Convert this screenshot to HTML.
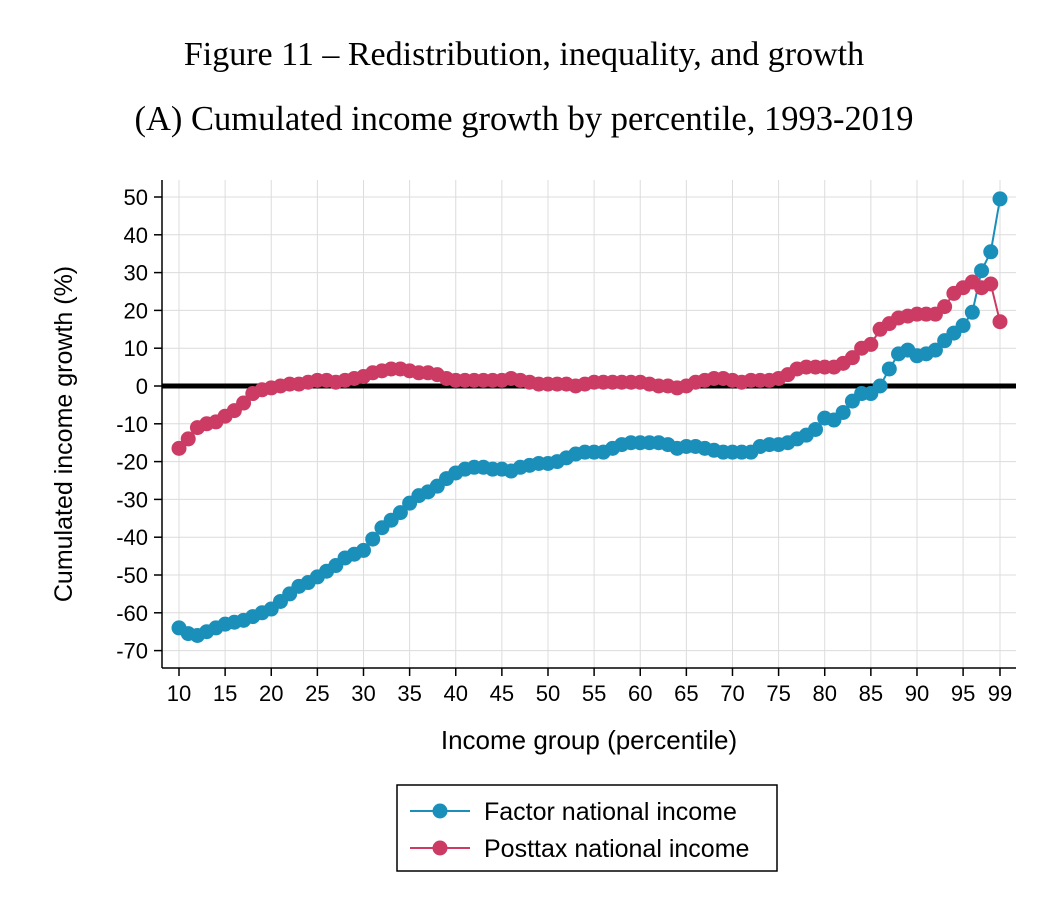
<!DOCTYPE html>
<html><head><meta charset="utf-8"><style>
body{margin:0;background:#fff;}
svg text{font-family:"Liberation Sans",sans-serif;}
</style></head><body>
<svg id="chart" width="1053" height="902" xmlns="http://www.w3.org/2000/svg">
<text x="524" y="65" text-anchor="middle" style="font-family:'Liberation Serif',serif;font-size:34px">Figure 11 – Redistribution, inequality, and growth</text>
<text x="524" y="130" text-anchor="middle" style="font-family:'Liberation Serif',serif;font-size:34.5px">(A) Cumulated income growth by percentile, 1993-2019</text>
<g id="grid"></g>
<g id="axes"></g>
<g id="series"></g>
<text transform="translate(72,434) rotate(-90)" text-anchor="middle" font-size="25">Cumulated income growth (%)</text>
<text x="589" y="749" text-anchor="middle" font-size="26">Income group (percentile)</text>
<g>
<rect x="397" y="785" width="380" height="86" fill="#fff" stroke="#000" stroke-width="1.5"/>
<g><line x1="410" y1="811" x2="470" y2="811" stroke="#1a8fba" stroke-width="2"/><circle cx="440" cy="811" r="7.5" fill="#1a8fba"/><text x="484" y="820" font-size="25">Factor national income</text></g>
<g><line x1="410" y1="848" x2="470" y2="848" stroke="#cc3b63" stroke-width="2"/><circle cx="440" cy="848" r="7.5" fill="#cc3b63"/><text x="484" y="857" font-size="25">Posttax national income</text></g>
</g>
</svg>
<script>
const factor=[-64,-65.5,-66,-65,-64,-63,-62.5,-62,-61,-60,-59,-57,-55,-53,-52,-50.5,-49,-47.5,-45.5,-44.5,-43.5,-40.5,-37.5,-35.5,-33.5,-31,-29,-28,-26.5,-24.5,-23,-22,-21.5,-21.5,-22,-22,-22.5,-21.5,-21,-20.5,-20.5,-20,-19,-18,-17.5,-17.5,-17.5,-16.5,-15.5,-15,-15,-15,-15,-15.5,-16.5,-16,-16,-16.5,-17,-17.5,-17.5,-17.5,-17.5,-16,-15.5,-15.5,-15,-14,-13,-11.5,-8.5,-9,-7,-4,-2,-2,0,4.5,8.5,9.5,8,8.5,9.5,12,14,16,19.5,30.5,35.5,49.5];
const posttax=[-16.5,-14,-11,-10,-9.5,-8,-6.5,-4.5,-2,-1,-0.5,0,0.5,0.5,1,1.5,1.5,1,1.5,2,2.5,3.5,4,4.5,4.5,4,3.5,3.5,3,2,1.5,1.5,1.5,1.5,1.5,1.5,2,1.5,1,0.5,0.5,0.5,0.5,0,0.5,1,1,1,1,1,1,0.5,0,0,-0.5,0,1,1.5,2,2,1.5,1,1.5,1.5,1.5,2,3,4.5,5,5,5,5,6,7.5,10,11,15,16.5,18,18.5,19,19,19,21,24.5,26,27.5,26,27,17];
const xTicks=[10,15,20,25,30,35,40,45,50,55,60,65,70,75,80,85,90,95,99];
const yTicks=[50,40,30,20,10,0,-10,-20,-30,-40,-50,-60,-70];
const NS="http://www.w3.org/2000/svg";
const X=v=>179+(v-10)*(1000-179)/89;
const Y=v=>386-v*(386-197)/50;
function mk(t,a,p){const e=document.createElementNS(NS,t);for(const k in a)e.setAttribute(k,a[k]);p.appendChild(e);return e;}
const grid=document.getElementById('grid'),axes=document.getElementById('axes'),ser=document.getElementById('series');
xTicks.forEach(t=>{const l=mk('line',{x1:X(t),x2:X(t),y1:180,y2:668,stroke:'#dcdcdc','stroke-width':1},grid);


const tk=mk('line',{x1:X(t),x2:X(t),y1:668,y2:676,stroke:'#000','stroke-width':1.5},axes);


const tx=mk('text',{x:X(t),y:701,'text-anchor':'middle','font-size':22},axes);tx.textContent=t;

});
yTicks.forEach(t=>{const l=mk('line',{x1:162,x2:1016,y1:Y(t),y2:Y(t),stroke:'#dcdcdc','stroke-width':1},grid);


const tk=mk('line',{x1:154,x2:162,y1:Y(t),y2:Y(t),stroke:'#000','stroke-width':1.5},axes);


const tx=mk('text',{x:148,y:Y(t)+8,'text-anchor':'end','font-size':22},axes);tx.textContent=t;

});
const ya=mk('line',{x1:162,x2:162,y1:180,y2:668,stroke:'#000','stroke-width':1.5},axes);


const xa=mk('line',{x1:162,x2:1016,y1:668,y2:668,stroke:'#000','stroke-width':1.5},axes);


const z=mk('line',{x1:162,x2:1016,y1:Y(0),y2:Y(0),stroke:'#000','stroke-width':5},axes);


function draw(vals,col,name){
 const pts=vals.map((v,i)=>X(10+i)+','+Y(v)).join(' ');
 const pl=mk('polyline',{points:pts,fill:'none',stroke:col,'stroke-width':2},ser);
 
 
 vals.forEach((v,i)=>{const c=mk('circle',{cx:X(10+i),cy:Y(v),r:7.5,fill:col},ser);
 
 });
}
draw(factor,'#1a8fba','factor');
draw(posttax,'#cc3b63','posttax');
</script>
</body></html>
